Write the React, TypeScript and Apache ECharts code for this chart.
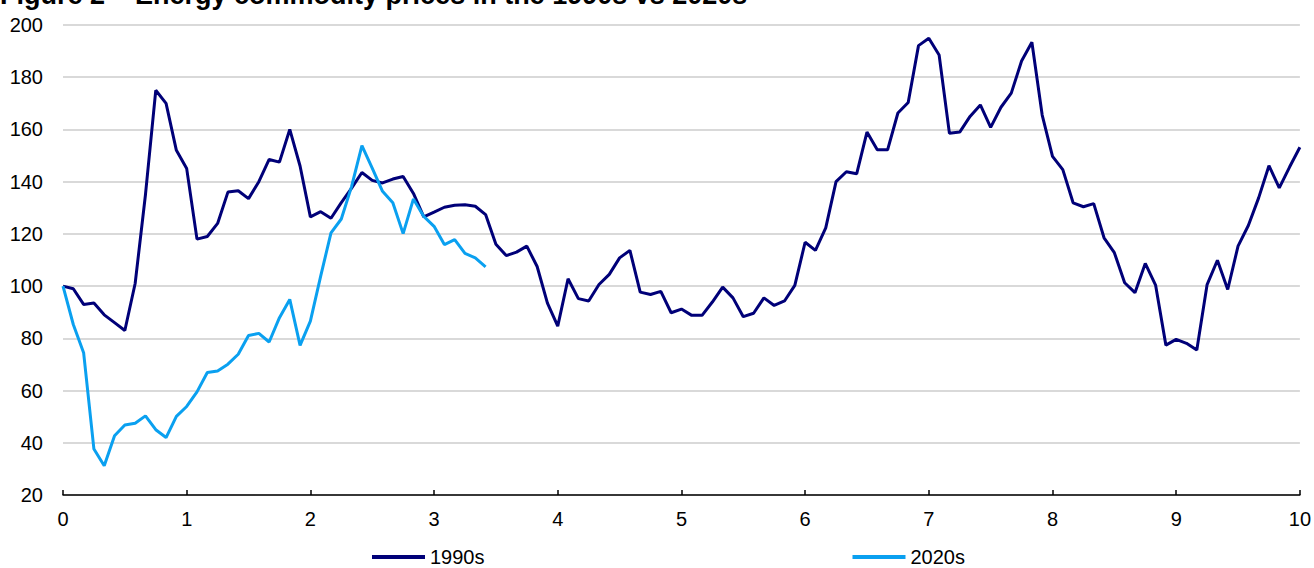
import React, { useEffect, useRef } from "react";
import * as echarts from "echarts";

const TITLE = "Figure 2 – Energy commodity prices in the 1990s vs 2020s";
const SERIES_NAMES = ["1990s", "2020s"];
const MONTHS_PER_UNIT = 12;

const prices1990s = [
  100, 99, 93, 93.5, 89, 86, 83, 101, 135, 175, 170, 152,
  145, 118, 119, 124, 136, 136.5, 133.5, 140, 148.5, 147.5, 160, 146,
  126.5, 128.5, 126, 132, 137.5, 143.5, 140.5, 139.5, 141, 142, 135.5, 126.5,
  128.3, 130.2, 131, 131.2, 130.6, 127.4, 116, 111.7, 113, 115.3, 107.5, 93.5,
  84.7, 102.8, 95.2, 94.3, 100.6, 104.5, 110.8, 113.7, 97.7, 96.8, 98, 89.8,
  91.2, 88.8, 88.8, 93.9, 99.6, 95.5, 88.3, 89.6, 95.5, 92.6, 94.3, 100.3,
  116.8, 113.7, 122.3, 140, 143.8, 143, 159, 152.2, 152.2, 166.3, 170.3, 192.1,
  194.9, 188.5, 158.5, 159, 165, 169.4, 160.8, 168.5, 173.9, 186.2, 193.4, 165.5,
  149.7, 144.6, 131.9, 130.4, 131.6, 118.5, 112.8, 101.3, 97.5, 108.7, 100.4, 77.4,
  79.6, 78.1, 75.5, 100.6, 109.9, 98.7, 115.3, 123.2, 133.8, 146.1, 137.6, 145.6,
  153.2,
];

const prices2020s = [
  100, 85.3, 74.5, 37.6, 31.2, 42.7, 46.8, 47.5, 50.3, 45, 42, 50.1,
  53.9, 59.5, 66.9, 67.5, 70.1, 73.9, 81.1, 81.9, 78.6, 87.9, 94.9, 77.3,
  86.6, 103.8, 120.4, 125.7, 138.2, 153.8, 145.2, 136.3, 131.9, 120.1, 133.4, 126.7,
  122.9, 115.9, 117.8, 112.5, 110.8, 107.4,
];

const X_MIN = 0;
const X_MAX = 10;
const Y_MIN = 20;
const Y_MAX = 200;

const FONT = "'Liberation Sans', Arial, sans-serif";
const NAVY = "#000078";
const LIGHT = "#0AA0F0";

const toPairs = (arr: number[]) => arr.map((v, i) => [i / MONTHS_PER_UNIT, v]);

export default function App() {
  const ref = useRef<HTMLDivElement | null>(null);

  useEffect(() => {
    document.body.style.margin = "0";
    if (!ref.current) return;
    const chart = echarts.init(ref.current, null, { renderer: "svg" });
    chart.setOption({
      animation: false,
      backgroundColor: "#ffffff",
      textStyle: { fontFamily: FONT },
      graphic: [
        {
          type: "text",
          left: 0,
          top: -19,
          style: {
            text: TITLE,
            font: `bold 27px ${FONT}`,
            fill: "#000",
          },
        },
      ],
      grid: { left: 63, right: 14, top: 25, bottom: 73, containLabel: false },
      xAxis: {
        type: "value",
        min: X_MIN,
        max: X_MAX,
        interval: 1,
        axisLine: { show: true, lineStyle: { color: "#000", width: 1.5 } },
        axisTick: { show: true, inside: true, length: 5, lineStyle: { color: "#000", width: 1.5 } },
        axisLabel: { color: "#000", fontSize: 20, fontFamily: FONT, margin: 14 },
        splitLine: { show: false },
      },
      yAxis: {
        type: "value",
        min: Y_MIN,
        max: Y_MAX,
        interval: 20,
        axisLine: { show: false },
        axisTick: { show: false },
        axisLabel: { color: "#000", fontSize: 20, fontFamily: FONT, margin: 20 },
        splitLine: { show: true, lineStyle: { color: "#d9d9d9", width: 2 } },
      },
      legend: {
        left: 372,
        top: 547,
        padding: 0,
        itemGap: 368,
        itemWidth: 53,
        itemHeight: 4,
        icon: "rect",
        textStyle: { color: "#000", fontSize: 20, fontFamily: FONT, padding: [0, 0, 0, 0] },
        data: SERIES_NAMES,
      },
      series: [
        {
          name: SERIES_NAMES[0],
          type: "line",
          data: toPairs(prices1990s),
          symbol: "none",
          lineStyle: { color: NAVY, width: 3 },
          itemStyle: { color: NAVY },
        },
        {
          name: SERIES_NAMES[1],
          type: "line",
          data: toPairs(prices2020s),
          symbol: "none",
          lineStyle: { color: LIGHT, width: 3 },
          itemStyle: { color: LIGHT },
        },
      ],
    });
    return () => chart.dispose();
  }, []);

  return <div ref={ref} style={{ width: 1314, height: 568 }} />;
}
